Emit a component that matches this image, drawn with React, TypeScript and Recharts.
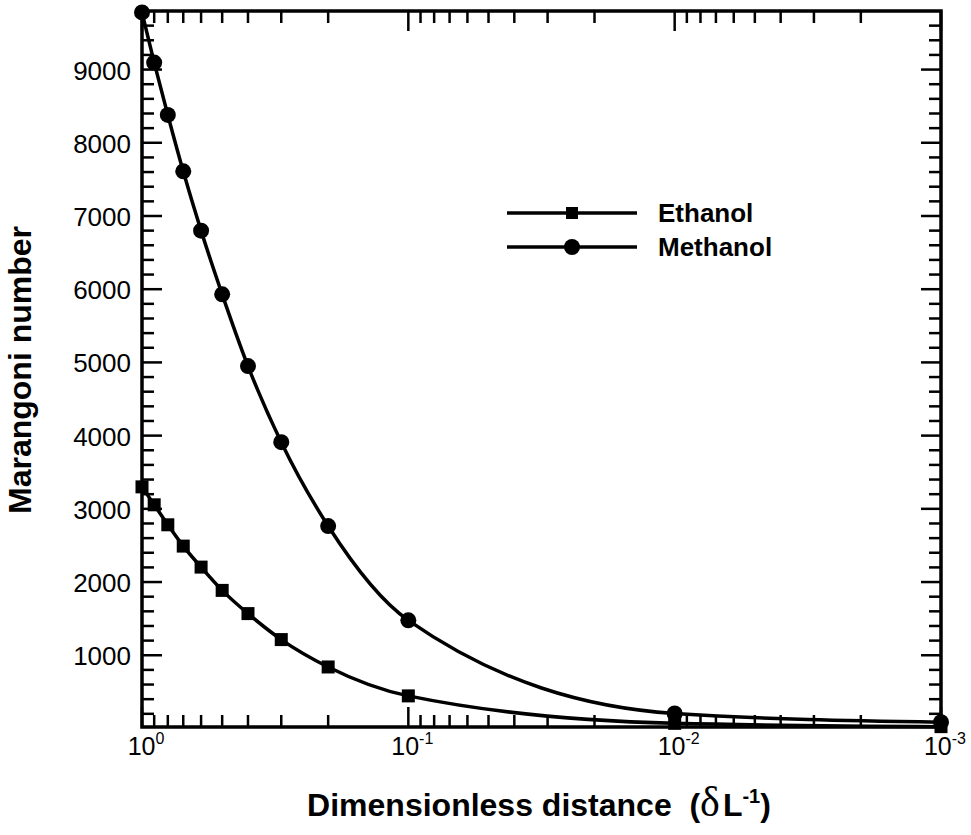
import React from 'react';
import { ComposedChart, Line, XAxis, YAxis, ReferenceArea, Legend } from 'recharts';

// ---------- data ----------
const distance = [1, 0.9, 0.8, 0.7, 0.6, 0.5, 0.4, 0.3, 0.2, 0.1, 0.01, 0.001];
const methanol = [9780, 9095, 8380, 7610, 6800, 5930, 4950, 3910, 2765, 1477, 205, 86];
const ethanol = [3300, 3055, 2782, 2491, 2204, 1886, 1569, 1214, 840, 445, 70, 25];

const xTicks = [
  1, 0.9, 0.8, 0.7, 0.6, 0.5, 0.4, 0.3, 0.2,
  0.1, 0.09, 0.08, 0.07, 0.06, 0.05, 0.04, 0.03, 0.02,
  0.01, 0.009, 0.008, 0.007, 0.006, 0.005, 0.004, 0.003, 0.002,
  0.001,
];
const xDecadeExponents: Record<string, string> = { '1': '0', '0.1': '-1', '0.01': '-2', '0.001': '-3' };

const yTicks = [
  200, 400, 600, 800, 1000, 1200, 1400, 1600, 1800, 2000,
  2200, 2400, 2600, 2800, 3000, 3200, 3400, 3600, 3800, 4000,
  4200, 4400, 4600, 4800, 5000, 5200, 5400, 5600, 5800, 6000,
  6200, 6400, 6600, 6800, 7000, 7200, 7400, 7600, 7800, 8000,
  8200, 8400, 8600, 8800, 9000, 9200, 9400, 9600,
];
const yLabelled = [1000, 2000, 3000, 4000, 5000, 6000, 7000, 8000, 9000];

const xDomain = [0.001, 1];
const yDomain = [20, 9800];

const seriesNames = { ethanol: 'Ethanol', methanol: 'Methanol' };
const xTitle = 'Dimensionless distance';
const yTitle = 'Marangoni number';

const data = distance.map((d, i) => ({ d, methanol: methanol[i], ethanol: ethanol[i] }));

// ---------- layout ----------
const W = 971;
const H = 835;
const MARGIN = { top: 11, right: 30, bottom: 0, left: 0 };
const X_AXIS_H = 108;
const Y_AXIS_W = 142;
const PLOT_RIGHT = W - MARGIN.right;
const PLOT_TOP = MARGIN.top;
const FONT = '"Liberation Sans", Arial, Helvetica, sans-serif';

const XTick = (props: any) => {
  const { x, y, payload } = props;
  const exp = xDecadeExponents[String(payload.value)];
  const len = exp !== undefined ? 20 : 12;
  return (
    <g>
      <line x1={x} y1={y} x2={x} y2={y - len} stroke="#000" strokeWidth={2.5} />
      <line x1={x} y1={PLOT_TOP} x2={x} y2={PLOT_TOP + len} stroke="#000" strokeWidth={2.5} />
      {exp !== undefined && (
        <text x={x + 4} y={y + 28} textAnchor="middle" fontFamily={FONT} fontSize={25} fill="#000">
          10
          <tspan dy={-11} fontSize={16}>{exp}</tspan>
        </text>
      )}
    </g>
  );
};

const YTick = (props: any) => {
  const { x, y, payload } = props;
  const v = payload.value;
  const major = yLabelled.includes(v);
  const len = major ? 20 : 12;
  return (
    <g>
      <line x1={x} y1={y} x2={x + len} y2={y} stroke="#000" strokeWidth={2.5} />
      <line x1={PLOT_RIGHT} y1={y} x2={PLOT_RIGHT - len} y2={y} stroke="#000" strokeWidth={2.5} />
      {major && (
        <text x={x - 11} y={y + 10} textAnchor="end" fontFamily={FONT} fontSize={26} fill="#000">
          {v}
        </text>
      )}
    </g>
  );
};

const SquareDot = (props: any) => {
  const { cx, cy, index } = props;
  if (cx == null || cy == null) return <g key={`s${index}`} />;
  return <rect key={`s${index}`} x={cx - 6.5} y={cy - 6.5} width={13} height={13} fill="#000" />;
};

const CircleDot = (props: any) => {
  const { cx, cy, index } = props;
  if (cx == null || cy == null) return <g key={`c${index}`} />;
  return <circle key={`c${index}`} cx={cx} cy={cy} r={8} fill="#000" />;
};

const LegendContent = () => (
  <svg width={320} height={80} style={{ display: 'block', overflow: 'visible' }}>
    <line x1={7} y1={23} x2={137} y2={23} stroke="#000" strokeWidth={3.5} />
    <rect x={66} y={17} width={12} height={12} fill="#000" />
    <text x={158} y={32} fontFamily={FONT} fontWeight="bold" fontSize={26} fill="#000">
      {seriesNames.ethanol}
    </text>
    <line x1={7} y1={57} x2={137} y2={57} stroke="#000" strokeWidth={3.5} />
    <circle cx={72} cy={57} r={8} fill="#000" />
    <text x={158} y={66} fontFamily={FONT} fontWeight="bold" fontSize={26} fill="#000">
      {seriesNames.methanol}
    </text>
  </svg>
);

const XTitle = () => (
  <text x={539} y={816} textAnchor="middle" fontFamily={FONT} fontWeight="bold" fontSize={32} fill="#000">
    {xTitle}
    {'\u00A0\u00A0'}(
    <tspan fontFamily='"Liberation Serif", "DejaVu Serif", serif' fontWeight="normal" fontSize={42}>
      δ
    </tspan>
    <tspan dx={3}>L</tspan>
    <tspan dy={-13} fontSize={20}>-1</tspan>
    <tspan dy={13}>)</tspan>
  </text>
);

const YTitle = () => (
  <text
    x={31}
    y={370}
    transform="rotate(-90, 31, 370)"
    textAnchor="middle"
    fontFamily={FONT}
    fontWeight="bold"
    fontSize={32}
    fill="#000"
  >
    {yTitle}
  </text>
);

export default function App() {
  return (
    <div style={{ position: 'absolute', left: 0, top: 0, width: W, height: H, background: '#fff' }}>
      <ComposedChart width={W} height={H} data={data} margin={MARGIN}>
        <XAxis
          dataKey="d"
          type="number"
          scale="log"
          domain={xDomain}
          reversed
          ticks={xTicks}
          interval={0}
          height={X_AXIS_H}
          tickSize={0}
          tickMargin={0}
          tickLine={false}
          axisLine={false}
          tick={<XTick />}
          label={<XTitle />}
        />
        <YAxis
          type="number"
          domain={yDomain}
          ticks={yTicks}
          interval={0}
          width={Y_AXIS_W}
          tickSize={0}
          tickMargin={0}
          tickLine={false}
          axisLine={false}
          tick={<YTick />}
          label={<YTitle />}
        />
        <ReferenceArea
          x1={xDomain[1]}
          x2={xDomain[0]}
          y1={yDomain[0]}
          y2={yDomain[1]}
          fill="none"
          stroke="#000"
          strokeWidth={3.5}
          ifOverflow="visible"
        />
        <Line
          dataKey="ethanol"
          type="monotone"
          stroke="#000"
          strokeWidth={3.5}
          dot={(p: any) => <SquareDot {...p} />}
          activeDot={false}
          isAnimationActive={false}
          legendType="none"
        />
        <Line
          dataKey="methanol"
          type="monotone"
          stroke="#000"
          strokeWidth={3.5}
          dot={(p: any) => <CircleDot {...p} />}
          activeDot={false}
          isAnimationActive={false}
          legendType="none"
        />
        <Legend
          layout="vertical"
          align="center"
          verticalAlign="middle"
          content={<LegendContent />}
          wrapperStyle={{ left: 500, top: 190, width: 320, height: 80 }}
        />
      </ComposedChart>
    </div>
  );
}
